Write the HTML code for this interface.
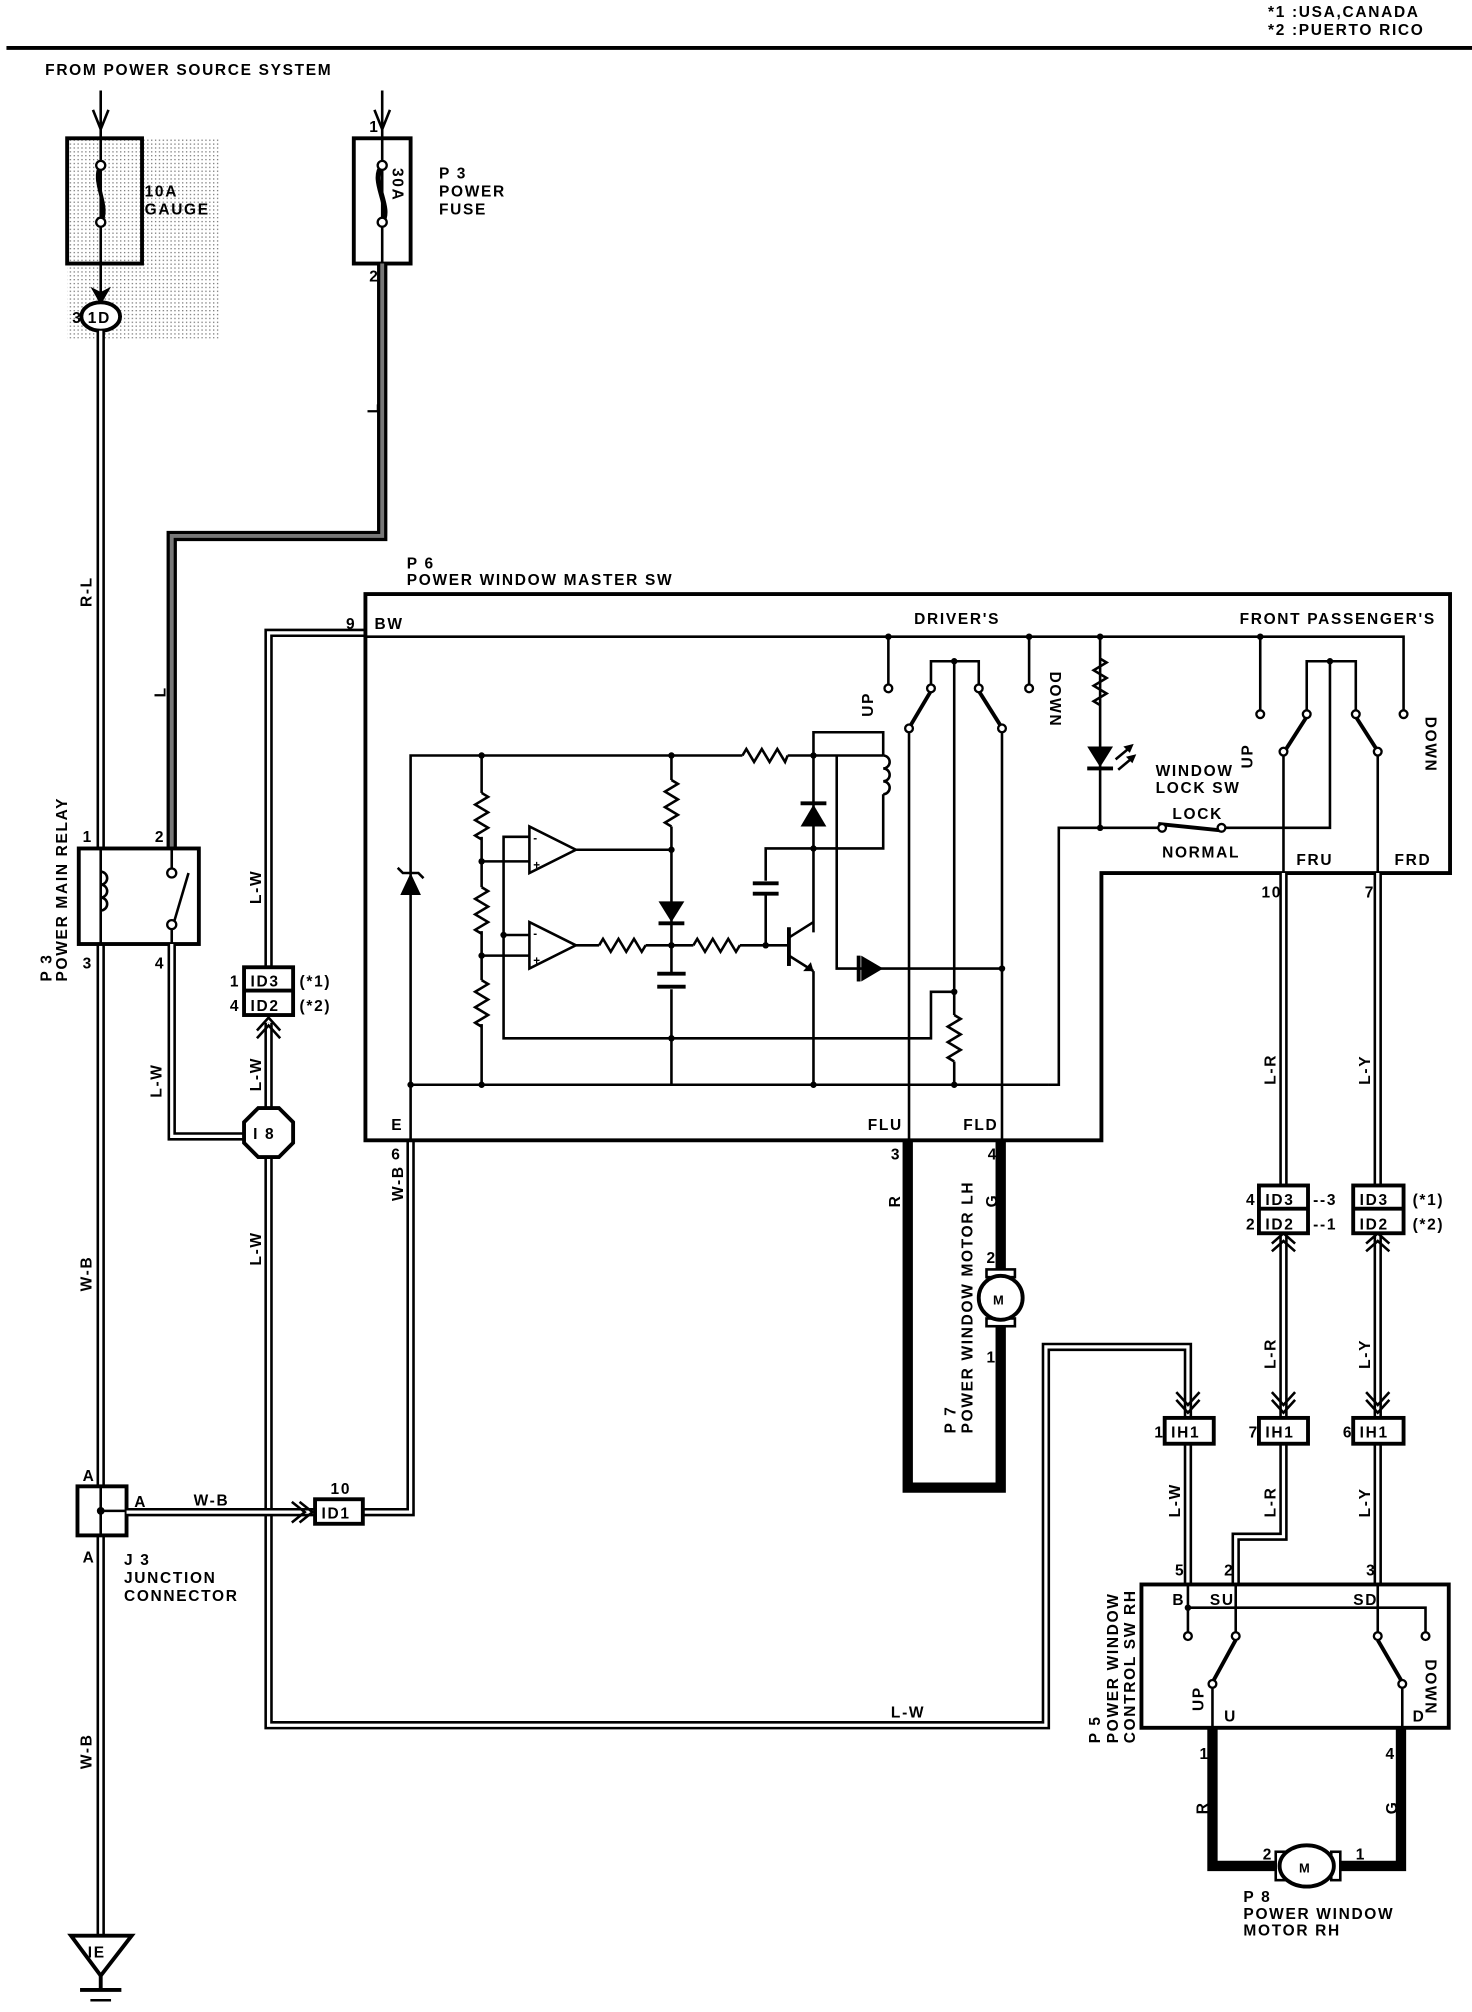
<!DOCTYPE html>
<html><head><meta charset="utf-8"><style>
html,body{margin:0;padding:0;background:#fff}
svg{display:block}
text{font-family:"Liberation Sans",sans-serif;font-weight:bold;font-size:12px;letter-spacing:1.3px;fill:#000}
.dw{fill:none;stroke:#000;stroke-width:6.5}
.dwi{fill:none;stroke:#fff;stroke-width:2.5}
.tk{fill:none;stroke:#000;stroke-width:8}
.tki{fill:none;stroke:#777;stroke-width:3}
.l{fill:none;stroke:#000;stroke-width:2}
.b{fill:none;stroke:#000;stroke-width:3}
.c{fill:#fff;stroke:#000;stroke-width:1.8}
.d{fill:#000}
</style></head><body>
<svg width="1472" height="2012" viewBox="0 0 1140 1558" xmlns="http://www.w3.org/2000/svg">
<defs>
<pattern id="dots" width="3" height="3" patternUnits="userSpaceOnUse"><rect width="1" height="1" fill="#777"/></pattern>
</defs>
<!-- header -->
<text x="982" y="13">*1 :USA,CANADA</text>
<text x="982" y="27">*2 :PUERTO RICO</text>
<line x1="5" y1="37" x2="1140" y2="37" stroke="#000" stroke-width="3"/>
<text x="35" y="58">FROM POWER SOURCE SYSTEM</text>

<!-- 10A gauge fuse -->
<rect x="52" y="107" width="118" height="155" fill="url(#dots)"/>
<rect x="68" y="198" width="0" height="0"/>
<line class="l" x1="78" y1="70" x2="78" y2="230"/>
<polyline class="l" points="72,85 78,100 84,85"/>
<rect x="52" y="107" width="58" height="97" fill="none" stroke="#000" stroke-width="3"/>
<path class="b" d="M78 128 C70 140,86 160,78 172"/>
<circle class="c" cx="78" cy="128" r="3.5"/><circle class="c" cx="78" cy="172" r="3.5"/>
<text x="112" y="152">10A</text><text x="112" y="166">GAUGE</text>
<polygon class="d" points="70,222 78,236 86,222 78,226"/>
<ellipse cx="78" cy="245" rx="15" ry="11" fill="#fff" stroke="#000" stroke-width="3"/>
<text x="68" y="250">1D</text>
<text x="56" y="250">3</text>

<!-- 30A power fuse -->
<line class="l" x1="296" y1="70" x2="296" y2="204"/>
<polyline class="l" points="290,85 296,100 302,85"/>
<rect x="274" y="107" width="44" height="97" fill="none" stroke="#000" stroke-width="3"/>
<path d="M296 128 C286 140,304 160,296 172" fill="none" stroke="#000" stroke-width="4"/>
<circle class="c" cx="296" cy="128" r="3.5"/><circle class="c" cx="296" cy="172" r="3.5"/>
<text x="0" y="0" transform="translate(304,130) rotate(90)">30A</text>
<text x="286" y="102">1</text><text x="286" y="218">2</text>
<text x="340" y="138">P 3</text><text x="340" y="152">POWER</text><text x="340" y="166">FUSE</text>

<!-- L thick wire -->
<path class="tk" d="M296 204 V415 H133 V657"/>
<path class="tki" d="M296 204 V415 H133 V657"/>
<text transform="translate(293,320) rotate(-90)">L</text>
<text transform="translate(128,540) rotate(-90)">L</text>

<!-- main W-B/R-L wire -->
<path class="dw" d="M78 256 V657 M78 731 V1499"/>
<path class="dwi" d="M78 256 V657 M78 731 V1499"/>
<text transform="translate(71,470) rotate(-90)">R-L</text>
<text transform="translate(71,1000) rotate(-90)">W-B</text>
<text transform="translate(71,1370) rotate(-90)">W-B</text>

<!-- relay -->
<rect x="61" y="657" width="93" height="74" fill="#fff" stroke="#000" stroke-width="3"/>
<line class="l" x1="78" y1="657" x2="78" y2="731"/>
<path class="l" d="M78 675 a5 5 0 0 1 0 10 a5 5 0 0 1 0 10 a5 5 0 0 1 0 10"/>
<line class="l" x1="133" y1="657" x2="133" y2="672"/>
<line class="l" x1="133" y1="720" x2="146" y2="676"/>
<circle class="c" cx="133" cy="676" r="3.5"/><circle class="c" cx="133" cy="716" r="3.5"/>
<line class="l" x1="133" y1="720" x2="133" y2="731"/>
<text x="64" y="652">1</text><text x="120" y="652">2</text>
<text x="64" y="750">3</text><text x="120" y="750">4</text>
<text transform="translate(40,760) rotate(-90)">P 3</text>
<text transform="translate(52,760) rotate(-90)">POWER MAIN RELAY</text>

<!-- L-W relay to I8 -->
<path class="dw" d="M133 731 V880 H190"/><path class="dwi" d="M133 731 V880 H190"/>
<text transform="translate(125,850) rotate(-90)">L-W</text>
<!-- I8 -->
<path class="dw" d="M208 858 V792 M208 749 V490 H283"/><path class="dwi" d="M208 858 V792 M208 749 V490 H283"/>
<polyline class="l" points="199,798 208,788 217,798"/><polyline class="l" points="199,804 208,794 217,804"/>
<text transform="translate(202,700) rotate(-90)">L-W</text>
<text transform="translate(202,845) rotate(-90)">L-W</text>
<rect x="189" y="749" width="38" height="37" fill="#fff" stroke="#000" stroke-width="3"/>
<line class="b" x1="189" y1="767" x2="227" y2="767"/>
<text x="194" y="764">ID3</text><text x="194" y="783">ID2</text>
<text x="178" y="764">1</text><text x="178" y="783">4</text>
<text x="232" y="764">(*1)</text><text x="232" y="783">(*2)</text>
<path class="dw" d="M208 896 V1336 H810 V1043 H920 V1098"/><path class="dwi" d="M208 896 V1336 H810 V1043 H920 V1098"/>
<polyline class="l" points="911,1084 920,1094 929,1084"/><polyline class="l" points="911,1078 920,1088 929,1078"/>
<polygon points="200,858 216,858 227,869 227,885 216,896 200,896 189,885 189,869" fill="#fff" stroke="#000" stroke-width="3"/>
<text x="196" y="882">I 8</text>
<text transform="translate(202,980) rotate(-90)">L-W</text>
<text x="690" y="1330">L-W</text>

<!-- J3 and ID1 -->
<rect x="60" y="1151" width="38" height="38" fill="#fff" stroke="#000" stroke-width="3"/>
<line class="l" x1="78" y1="1151" x2="78" y2="1189"/><line class="l" x1="78" y1="1170" x2="98" y2="1170"/>
<circle class="d" cx="78" cy="1170" r="3"/>
<text x="64" y="1147">A</text><text x="104" y="1167">A</text><text x="64" y="1210">A</text>
<text x="96" y="1212">J 3</text><text x="96" y="1226">JUNCTION</text><text x="96" y="1240">CONNECTOR</text>
<path class="dw" d="M98 1171 H244"/><path class="dwi" d="M98 1171 H244"/>
<text x="150" y="1166">W-B</text>
<polyline class="l" points="226,1163 236,1171 226,1179"/><polyline class="l" points="232,1163 242,1171 232,1179"/>
<path class="dw" d="M281 1171 H318 V883"/><path class="dwi" d="M281 1171 H318 V883"/>
<rect x="244" y="1161" width="37" height="19" fill="#fff" stroke="#000" stroke-width="3"/>
<text x="249" y="1176">ID1</text><text x="256" y="1157">10</text>
<text transform="translate(312,930) rotate(-90)">W-B</text>
<text x="303" y="898">6</text>

<!-- master switch box -->
<text x="315" y="440">P 6</text><text x="315" y="453">POWER WINDOW MASTER SW</text>
<polygon points="283,460 1123,460 1123,676 853,676 853,883 283,883" fill="none" stroke="#000" stroke-width="3"/>
<text x="268" y="487">9</text><text x="290" y="487">BW</text>
<text x="303" y="875">E</text>
<text x="672" y="875">FLU</text><text x="746" y="875">FLD</text>
<text x="708" y="483">DRIVER'S</text>
<text x="960" y="483">FRONT PASSENGER'S</text>
<!-- BW bus -->
<polyline class="l" points="283,493 1087,493 1087,553"/>
<circle class="d" cx="688" cy="493" r="2.5"/><circle class="d" cx="797" cy="493" r="2.5"/><circle class="d" cx="852" cy="493" r="2.5"/><circle class="d" cx="976" cy="493" r="2.5"/>
<line class="l" x1="688" y1="493" x2="688" y2="530"/><circle class="c" cx="688" cy="533" r="3"/>
<line class="l" x1="797" y1="493" x2="797" y2="530"/><circle class="c" cx="797" cy="533" r="3"/>
<text transform="translate(676,555) rotate(-90)">UP</text>
<text transform="translate(813,520) rotate(90)">DOWN</text>
<!-- driver switch -->
<polyline class="l" points="721,530 721,512 758,512 758,530"/>
<circle class="d" cx="739" cy="512" r="2.5"/>
<line class="b" x1="721" y1="535" x2="705" y2="562"/><line class="b" x1="758" y1="535" x2="775" y2="562"/>
<circle class="c" cx="721" cy="533" r="3"/><circle class="c" cx="758" cy="533" r="3"/>
<circle class="c" cx="704" cy="564" r="3"/><circle class="c" cx="776" cy="564" r="3"/>
<line class="l" x1="704" y1="567" x2="704" y2="883"/>
<line class="l" x1="776" y1="567" x2="776" y2="883"/>
<line class="l" x1="739" y1="512" x2="739" y2="840"/>
<!-- LED -->
<line class="l" x1="852" y1="493" x2="852" y2="641"/>
<path class="l" fill="#fff" d="M852 510 l5 3 l-10 6 l10 6 l-10 6 l10 6 l-10 6 l5 3"/>
<polygon class="d" points="842,578 862,578 852,594"/><line class="b" x1="842" y1="595" x2="862" y2="595"/>
<line class="l" x1="864" y1="588" x2="876" y2="578"/><polygon class="d" points="878,576 870,578 875,583"/>
<line class="l" x1="866" y1="596" x2="878" y2="586"/><polygon class="d" points="880,584 872,586 877,591"/>
<text x="895" y="601">WINDOW</text><text x="895" y="614">LOCK SW</text>
<text x="908" y="634">LOCK</text><text x="900" y="664">NORMAL</text>
<!-- lock switch line -->
<polyline class="l" points="812,840 820,840 820,641 897,641"/>
<circle class="d" cx="852" cy="641" r="2.5"/>
<line class="b" x1="897" y1="638" x2="946" y2="643"/>
<circle class="c" cx="900" cy="641" r="3"/><circle class="c" cx="946" cy="641" r="3"/>
<polyline class="l" points="949,641 1030,641 1030,512"/>
<!-- passenger switch -->
<line class="l" x1="976" y1="493" x2="976" y2="550"/><circle class="c" cx="976" cy="553" r="3"/><circle class="c" cx="1087" cy="553" r="3"/>
<text transform="translate(970,595) rotate(-90)">UP</text>
<text transform="translate(1104,555) rotate(90)">DOWN</text>
<polyline class="l" points="1012,550 1012,512 1050,512 1050,550"/>
<circle class="d" cx="1030" cy="512" r="2.5"/>
<line class="b" x1="1012" y1="555" x2="996" y2="580"/><line class="b" x1="1050" y1="555" x2="1066" y2="580"/>
<circle class="c" cx="1012" cy="553" r="3"/><circle class="c" cx="1050" cy="553" r="3"/>
<circle class="c" cx="994" cy="582" r="3"/><circle class="c" cx="1067" cy="582" r="3"/>
<line class="l" x1="994" y1="585" x2="994" y2="676"/><line class="l" x1="1067" y1="585" x2="1067" y2="676"/>
<text x="1004" y="670">FRU</text><text x="1080" y="670">FRD</text>
<text x="977" y="695">10</text><text x="1057" y="695">7</text>

<!-- internal circuit -->
<polyline class="l" points="318,883 318,585 575,585"/>
<line class="l" x1="610" y1="585" x2="684" y2="585"/>
<path class="l" d="M575 585 l3 -5 l6 10 l6 -10 l6 10 l6 -10 l6 10 l2 -5"/>
<polygon class="d" points="310,693 326,693 318,676"/><polyline class="l" points="308,672 312,676 324,676 328,680"/>
<line class="l" x1="318" y1="840" x2="812" y2="840"/>
<circle class="d" cx="318" cy="840" r="2.5"/>
<!-- resistor chain -->
<line class="l" x1="373" y1="585" x2="373" y2="840"/>
<path class="l" fill="#fff" d="M373 614 l5 3 l-10 6 l10 6 l-10 6 l10 6 l-10 6 l5 3 M373 687 l5 3 l-10 6 l10 6 l-10 6 l10 6 l-10 6 l5 3 M373 759 l5 3 l-10 6 l10 6 l-10 6 l10 6 l-10 6 l5 3"/>
<rect x="366" y="614" width="14" height="34" fill="#fff"/><path class="l" d="M373 614 l5 3 l-10 6 l10 6 l-10 6 l10 6 l-10 6 l5 3"/>
<rect x="366" y="687" width="14" height="34" fill="#fff"/><path class="l" d="M373 687 l5 3 l-10 6 l10 6 l-10 6 l10 6 l-10 6 l5 3"/>
<rect x="366" y="759" width="14" height="34" fill="#fff"/><path class="l" d="M373 759 l5 3 l-10 6 l10 6 l-10 6 l10 6 l-10 6 l5 3"/>
<circle class="d" cx="373" cy="585" r="2.5"/><circle class="d" cx="373" cy="667" r="2.5"/><circle class="d" cx="373" cy="740" r="2.5"/><circle class="d" cx="373" cy="840" r="2.5"/>
<!-- opamps -->
<polygon points="410,640 410,676 446,658" fill="#fff" stroke="#000" stroke-width="2"/>
<polygon points="410,714 410,750 446,732" fill="#fff" stroke="#000" stroke-width="2"/>
<line class="l" x1="373" y1="667" x2="410" y2="667"/><line class="l" x1="373" y1="740" x2="410" y2="740"/>
<polyline class="l" points="410,648 390,648 390,804 721,804 721,768 739,768"/>
<line class="l" x1="390" y1="724" x2="410" y2="724"/><circle class="d" cx="390" cy="724" r="2.5"/>
<text x="413" y="652" style="font-size:9px">-</text><text x="413" y="673" style="font-size:9px">+</text>
<text x="413" y="726" style="font-size:9px">-</text><text x="413" y="747" style="font-size:9px">+</text>
<line class="l" x1="446" y1="658" x2="520" y2="658"/>
<line class="l" x1="446" y1="732" x2="464" y2="732"/>
<path class="l" d="M464 732 l3 -5 l6 10 l6 -10 l6 10 l6 -10 l6 10 l3 -5"/>
<line class="l" x1="500" y1="732" x2="537" y2="732"/>
<path class="l" d="M537 732 l3 -5 l6 10 l6 -10 l6 10 l6 -10 l6 10 l3 -5"/>
<line class="l" x1="573" y1="732" x2="611" y2="732"/>
<!-- column x=520 -->
<line class="l" x1="520" y1="585" x2="520" y2="604"/>
<path class="l" d="M520 604 l5 3 l-10 6 l10 6 l-10 6 l10 6 l-10 6 l5 3"/>
<line class="l" x1="520" y1="640" x2="520" y2="754"/><line class="l" x1="520" y1="766" x2="520" y2="840"/>
<polygon class="d" points="510,698 530,698 520,714"/><line class="b" x1="510" y1="715" x2="530" y2="715"/>
<line class="b" x1="509" y1="754" x2="531" y2="754"/><line class="b" x1="509" y1="764" x2="531" y2="764"/>
<circle class="d" cx="520" cy="585" r="2.5"/><circle class="d" cx="520" cy="658" r="2.5"/><circle class="d" cx="520" cy="732" r="2.5"/><circle class="d" cx="520" cy="804" r="2.5"/>
<!-- coil / diode / transistor -->
<polyline class="l" points="630,585 630,567 684,567 684,585"/>
<path class="l" d="M684 585 a5 5 0 0 1 0 10 a5 5 0 0 1 0 10 a5 5 0 0 1 0 10"/>
<polyline class="l" points="684,615 684,657 593,657 593,682"/>
<line class="l" x1="630" y1="585" x2="630" y2="722"/>
<polygon class="d" points="620,640 640,640 630,623"/><line class="b" x1="620" y1="622" x2="640" y2="622"/>
<circle class="d" cx="630" cy="585" r="2.5"/><circle class="d" cx="630" cy="657" r="2.5"/>
<line class="b" x1="583" y1="684" x2="603" y2="684"/><line class="b" x1="583" y1="692" x2="603" y2="692"/>
<line class="l" x1="593" y1="692" x2="593" y2="732"/><circle class="d" cx="593" cy="732" r="2.5"/>
<line class="b" x1="611" y1="718" x2="611" y2="748"/>
<line class="l" x1="611" y1="726" x2="630" y2="714"/><line class="l" x1="611" y1="740" x2="630" y2="752"/>
<polygon class="d" points="630,752 622,752 628,745"/>
<line class="l" x1="630" y1="752" x2="630" y2="840"/><circle class="d" cx="630" cy="840" r="2.5"/>
<polyline class="l" points="648,585 648,750 776,750"/>
<polygon class="d" points="667,740 667,760 684,750"/><line class="b" x1="665" y1="740" x2="665" y2="760"/>
<circle class="d" cx="776" cy="750" r="2.5"/>
<circle class="d" cx="739" cy="768" r="2.5"/><circle class="d" cx="739" cy="840" r="2.5"/>
<rect x="732" y="786" width="14" height="36" fill="#fff"/>
<path class="l" d="M739 786 l5 3 l-10 6 l10 6 l-10 6 l10 6 l-10 6 l5 3"/>

<!-- LH motor wires -->
<path class="tk" d="M703 883 V1152 H775 V1027 M775 883 V983"/>
<text x="690" y="898">3</text><text x="765" y="898">4</text>
<text transform="translate(697,935) rotate(-90)">R</text>
<text transform="translate(772,935) rotate(-90)">G</text>
<text x="764" y="978">2</text><text x="764" y="1055">1</text>
<rect x="764" y="983" width="22" height="6" fill="#fff" stroke="#000" stroke-width="2"/>
<rect x="764" y="1021" width="22" height="6" fill="#fff" stroke="#000" stroke-width="2"/>
<ellipse cx="775" cy="1005" rx="17" ry="17" fill="#fff" stroke="#000" stroke-width="3"/>
<text x="769" y="1010" style="font-size:10px">M</text>
<text transform="translate(740,1110) rotate(-90)">P 7</text>
<text transform="translate(753,1110) rotate(-90)">POWER WINDOW MOTOR LH</text>

<!-- FRU / FRD wires -->
<path class="dw" d="M994 676 V918 M994 955 V1098 M994 1118 V1190 H957 V1227 M1067 676 V918 M1067 955 V1098 M1067 1118 V1227 M920 1118 V1227"/>
<path class="dwi" d="M994 676 V918 M994 955 V1098 M994 1118 V1190 H957 V1227 M1067 676 V918 M1067 955 V1098 M1067 1118 V1227 M920 1118 V1227"/>
<text transform="translate(988,840) rotate(-90)">L-R</text>
<text transform="translate(1061,840) rotate(-90)">L-Y</text>
<text transform="translate(988,1060) rotate(-90)">L-R</text>
<text transform="translate(1061,1060) rotate(-90)">L-Y</text>
<text transform="translate(988,1175) rotate(-90)">L-R</text>
<text transform="translate(1061,1175) rotate(-90)">L-Y</text>
<text transform="translate(914,1175) rotate(-90)">L-W</text>
<polyline class="l" points="985,963 994,955 1003,963"/><polyline class="l" points="985,969 994,961 1003,969"/>
<polyline class="l" points="1058,963 1067,955 1076,963"/><polyline class="l" points="1058,969 1067,961 1076,969"/>
<polyline class="l" points="985,1084 994,1094 1003,1084"/><polyline class="l" points="985,1078 994,1088 1003,1078"/>
<polyline class="l" points="1058,1084 1067,1094 1076,1084"/><polyline class="l" points="1058,1078 1067,1088 1076,1078"/>
<rect x="975" y="918" width="38" height="37" fill="#fff" stroke="#000" stroke-width="3"/><line class="b" x1="975" y1="936" x2="1013" y2="936"/>
<rect x="1048" y="918" width="39" height="37" fill="#fff" stroke="#000" stroke-width="3"/><line class="b" x1="1048" y1="936" x2="1087" y2="936"/>
<text x="980" y="933">ID3</text><text x="980" y="952">ID2</text>
<text x="1053" y="933">ID3</text><text x="1053" y="952">ID2</text>
<text x="965" y="933">4</text><text x="965" y="952">2</text>
<text x="1017" y="933">--3</text><text x="1017" y="952">--1</text>
<text x="1094" y="933">(*1)</text><text x="1094" y="952">(*2)</text>
<rect x="902" y="1098" width="38" height="20" fill="#fff" stroke="#000" stroke-width="3"/>
<rect x="975" y="1098" width="38" height="20" fill="#fff" stroke="#000" stroke-width="3"/>
<rect x="1048" y="1098" width="39" height="20" fill="#fff" stroke="#000" stroke-width="3"/>
<text x="907" y="1113">IH1</text><text x="980" y="1113">IH1</text><text x="1053" y="1113">IH1</text>
<text x="894" y="1113">1</text><text x="967" y="1113">7</text><text x="1040" y="1113">6</text>

<!-- control SW RH -->
<rect x="884" y="1227" width="238" height="111" fill="#fff" stroke="#000" stroke-width="3"/>
<text x="910" y="1220">5</text><text x="948" y="1220">2</text><text x="1058" y="1220">3</text>
<text x="908" y="1243">B</text><text x="937" y="1243">SU</text><text x="1048" y="1243">SD</text>
<line class="l" x1="920" y1="1227" x2="920" y2="1264"/>
<polyline class="l" points="920,1245 1104,1245 1104,1264"/><circle class="d" cx="920" cy="1245" r="2.5"/>
<line class="l" x1="957" y1="1227" x2="957" y2="1264"/><line class="l" x1="1067" y1="1227" x2="1067" y2="1264"/>
<circle class="c" cx="920" cy="1267" r="3"/><circle class="c" cx="1104" cy="1267" r="3"/>
<line class="b" x1="957" y1="1270" x2="940" y2="1301"/><line class="b" x1="1067" y1="1270" x2="1085" y2="1301"/>
<circle class="c" cx="957" cy="1267" r="3"/><circle class="c" cx="1067" cy="1267" r="3"/>
<circle class="c" cx="939" cy="1304" r="3"/><circle class="c" cx="1086" cy="1304" r="3"/>
<line class="l" x1="939" y1="1307" x2="939" y2="1338"/><line class="l" x1="1086" y1="1307" x2="1086" y2="1338"/>
<text transform="translate(932,1325) rotate(-90)">UP</text>
<text transform="translate(1104,1285) rotate(90)">DOWN</text>
<text x="948" y="1333">U</text><text x="1094" y="1333">D</text>
<text transform="translate(852,1350) rotate(-90)">P 5</text>
<text transform="translate(866,1350) rotate(-90)">POWER WINDOW</text>
<text transform="translate(879,1350) rotate(-90)">CONTROL SW RH</text>
<!-- RH motor -->
<path class="tk" d="M939 1338 V1445 H990 M1085 1338 V1445 H1035"/>
<text x="929" y="1362">1</text><text x="1073" y="1362">4</text>
<text transform="translate(935,1405) rotate(-90)">R</text>
<text transform="translate(1082,1405) rotate(-90)">G</text>
<text x="978" y="1440">2</text><text x="1050" y="1440">1</text>
<rect x="988" y="1434" width="7" height="22" fill="#fff" stroke="#000" stroke-width="2"/>
<rect x="1031" y="1434" width="7" height="22" fill="#fff" stroke="#000" stroke-width="2"/>
<ellipse cx="1012" cy="1445" rx="21" ry="16" fill="#fff" stroke="#000" stroke-width="3"/>
<text x="1006" y="1450" style="font-size:10px">M</text>
<text x="963" y="1473">P 8</text><text x="963" y="1486">POWER WINDOW</text><text x="963" y="1499">MOTOR RH</text>

<!-- ground -->
<polygon points="55,1499 102,1499 78,1530" fill="#fff" stroke="#000" stroke-width="3"/>
<text x="68" y="1516">IE</text>
<line class="b" x1="78" y1="1530" x2="78" y2="1541"/>
<line class="b" x1="62" y1="1541" x2="94" y2="1541"/>
<line class="l" x1="70" y1="1549" x2="86" y2="1549"/>
</svg>
</body></html>
